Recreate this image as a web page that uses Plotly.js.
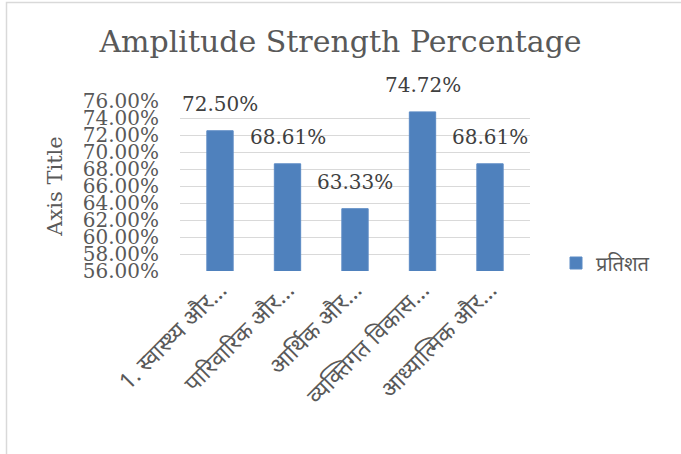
<!DOCTYPE html>
<html>
<head>
<meta charset="utf-8">
<script src="https://cdn.plot.ly/plotly-3.0.1.min.js"></script>
<style>
html,body{margin:0;padding:0;background:#fff;}
#chart{width:681px;height:454px;}
</style>
</head>
<body>
<div id="chart"></div>
<script>
const categories = ["1. स्वास्थ्य और…", "पारिवारिक और…", "आर्थिक और…", "व्यक्तिगत विकास…", "आध्यात्मिक और…"];
const values = [72.50, 68.61, 63.33, 74.72, 68.61];
const valueLabels = ["72.50%", "68.61%", "63.33%", "74.72%", "68.61%"];
const seriesName = "प्रतिशत";
const yTickValues = [56, 58, 60, 62, 64, 66, 68, 70, 72, 74, 76];
const yTickLabels = ["56.00%", "58.00%", "60.00%", "62.00%", "64.00%", "66.00%", "68.00%", "70.00%", "72.00%", "74.00%", "76.00%"];

const serif = "DejaVu Serif, serif";
const deva = "Noto Sans Devanagari, Noto Sans, sans-serif";
const L = 180, R = 151, T = 101, B = 183;
const pw = 681 - L - R, ph = 454 - T - B;
const px2x = p => (p - L) / pw;
const px2y = p => (454 - B - p) / ph;

const trace = {
  type: "bar",
  x: categories,
  y: values,
  name: seriesName,
  marker: {color: "#4f81bd", line: {color: "#5b8ac4", width: 1}},
  hoverinfo: "none"
};

const annotations = categories.map((c, i) => ({
  x: c, y: values[i], xref: "x", yref: "y",
  text: valueLabels[i], showarrow: false,
  yanchor: "bottom", xanchor: "center", yshift: 13,
  font: {family: serif, size: 20, color: "#404040"}
}));

const layout = {
  width: 681, height: 454,
  margin: {l: L, r: R, t: T, b: B, pad: 0},
  paper_bgcolor: "#fff", plot_bgcolor: "#fff",
  title: {text: "Amplitude Strength Percentage", x: 0.5, xanchor: "center",
          y: 1 - 41 / 454, yanchor: "middle",
          font: {family: serif, size: 30, color: "#595959"}},
  bargap: 0.61,
  xaxis: {
    type: "category", tickangle: -45, showgrid: false, showline: false, ticks: "",
    tickfont: {family: deva, size: 23, color: "#595959"},
    automargin: false
  },
  yaxis: {
    range: [56, 76], tickvals: yTickValues, ticktext: yTickLabels,
    showgrid: true, gridcolor: "#d9d9d9", gridwidth: 1, zeroline: false, showline: false,
    ticks: "", ticklabelstandoff: 20,
    tickfont: {family: serif, size: 20, color: "#595959"},
    title: {text: "Axis Title", font: {family: serif, size: 21, color: "#595959"}, standoff: 14},
    automargin: false
  },
  showlegend: true,
  legend: {x: px2x(556), y: px2y(263), xanchor: "left", yanchor: "middle",
           font: {family: deva, size: 20, color: "#595959"},
           bgcolor: "rgba(0,0,0,0)"},
  annotations: annotations,
  shapes: [{type: "path", xref: "paper", yref: "paper",
            path: `M ${px2x(6.5)},${px2y(470)} L ${px2x(6.5)},${px2y(2.5)} L ${px2x(700)},${px2y(2.5)}`,
            line: {color: "#d9d9d9", width: 1.5}}]
};

Plotly.newPlot("chart", [trace], layout, {staticPlot: true, displayModeBar: false});
</script>
</body>
</html>
